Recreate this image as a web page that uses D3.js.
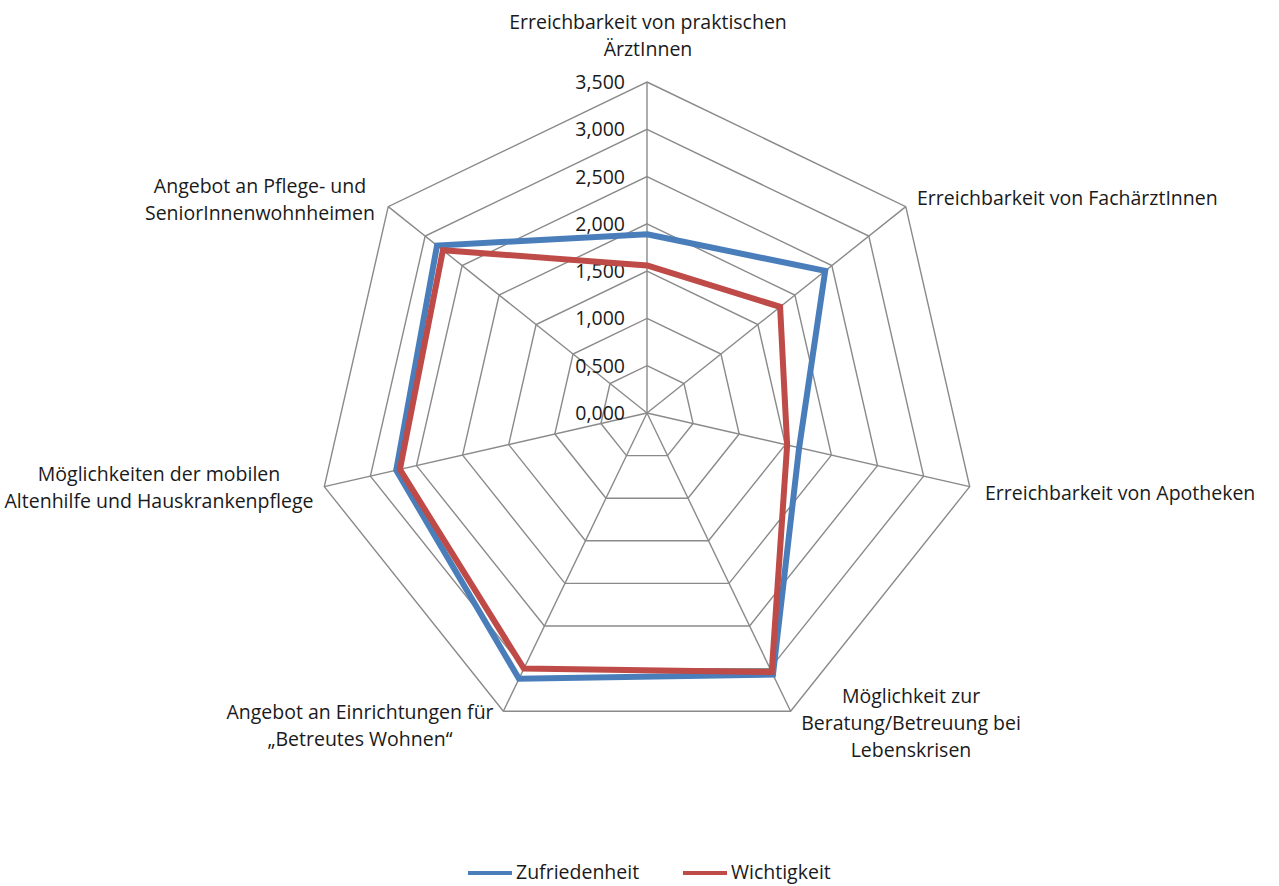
<!DOCTYPE html>
<html>
<head>
<meta charset="utf-8">
<script src="https://cdn.jsdelivr.net/npm/d3@7"></script>
<style>
  body { margin: 0; background: #fff; }
  svg { display: block; }
  text { font-family: "Open Sans", Lato, sans-serif; fill: #1a1a1a; }
</style>
</head>
<body>
<svg id="chart" width="1279" height="886"></svg>
<script>
// Achsen im Uhrzeigersinn, oben beginnend
const categories = [
  ['Erreichbarkeit von praktischen', 'ÄrztInnen'],
  ['Erreichbarkeit von FachärztInnen'],
  ['Erreichbarkeit von Apotheken'],
  ['Möglichkeit zur', 'Beratung/Betreuung bei', 'Lebenskrisen'],
  ['Angebot an Einrichtungen für', '„Betreutes Wohnen“'],
  ['Möglichkeiten der mobilen', 'Altenhilfe und Hauskrankenpflege'],
  ['Angebot an Pflege- und', 'SeniorInnenwohnheimen']
]
const zufriedenheit = [1.89, 2.41, 1.65, 3.07, 3.12, 2.72, 2.84]
const wichtigkeit = [1.56, 1.80, 1.52, 3.04, 3.00, 2.68, 2.76]
const ticks = [0, 0.5, 1, 1.5, 2, 2.5, 3, 3.5]

const series = [
  { name: 'Zufriedenheit', values: zufriedenheit, color: '#4a7ebb' },
  { name: 'Wichtigkeit', values: wichtigkeit, color: '#be4b48' }
]

const svg = d3.select('#chart')
const cx = 647
const cy = 413
const r = d3.scaleLinear().domain([0, 3.5]).range([0, 331])
const angle = i => i * 2 * Math.PI / categories.length
const pt = (i, v) => [cx + r(v) * Math.sin(angle(i)), cy - r(v) * Math.cos(angle(i))]

const fmt = d3.formatLocale({ decimal: ',', thousands: '.', grouping: [3], currency: ['', '€'] }).format('.3f')
const fontSize = '19.5px'

// Gitter
const grid = svg.append('g')
grid.selectAll('.ring')
  .data(ticks.slice(1))
  .enter()
  .append('polygon')
  .attr('class', 'ring')
  .attr('points', t => categories.map((c, i) => pt(i, t).join(',')).join(' '))
  .attr('fill', 'none')
  .attr('stroke', '#8a8a8a')
  .attr('stroke-width', 1.4)

grid.selectAll('.spoke')
  .data(categories)
  .enter()
  .append('line')
  .attr('class', 'spoke')
  .attr('x1', cx)
  .attr('y1', cy)
  .attr('x2', (c, i) => pt(i, 3.5)[0])
  .attr('y2', (c, i) => pt(i, 3.5)[1])
  .attr('stroke', '#8a8a8a')
  .attr('stroke-width', 1.4)

// Achsenbeschriftung
svg.append('g').selectAll('text')
  .data(ticks)
  .enter()
  .append('text')
  .attr('x', cx - 22)
  .attr('y', t => cy - r(t) + 7)
  .attr('text-anchor', 'end')
  .style('font-size', fontSize)
  .text(fmt)

// Linien
const line = d3.line().curve(d3.curveLinearClosed)
svg.append('g').selectAll('path')
  .data(series)
  .enter()
  .append('path')
  .attr('d', s => line(s.values.map((v, i) => pt(i, v))))
  .attr('fill', 'none')
  .attr('stroke', s => s.color)
  .attr('stroke-width', 6)
  .attr('stroke-linejoin', 'miter')

// Kategorien
const labelPos = [
  { x: 648, y: 29, anchor: 'middle' },
  { x: 917, y: 205, anchor: 'start' },
  { x: 985, y: 500, anchor: 'start' },
  { x: 911, y: 703, anchor: 'middle' },
  { x: 360, y: 719, anchor: 'middle' },
  { x: 159, y: 481, anchor: 'middle' },
  { x: 260, y: 193, anchor: 'middle' }
]
const labels = svg.append('g').selectAll('text')
  .data(categories)
  .enter()
  .append('text')
  .attr('x', (c, i) => labelPos[i].x)
  .attr('y', (c, i) => labelPos[i].y)
  .attr('text-anchor', (c, i) => labelPos[i].anchor)
  .style('font-size', fontSize)

labels.selectAll('tspan')
  .data((c, i) => c.map(t => ({ t, i })))
  .enter()
  .append('tspan')
  .attr('x', d => labelPos[d.i].x)
  .attr('dy', (d, j) => j === 0 ? 0 : 27)
  .text(d => d.t)

// Legende
const legend = svg.append('g')
const legX = [468, 683]
series.forEach((s, i) => {
  legend.append('line')
    .attr('x1', legX[i])
    .attr('x2', legX[i] + 44)
    .attr('y1', 873)
    .attr('y2', 873)
    .attr('stroke', s.color)
    .attr('stroke-width', 4)
  legend.append('text')
    .attr('x', legX[i] + 48)
    .attr('y', 879)
    .style('font-size', fontSize)
    .text(s.name)
})
</script>
</body>
</html>
